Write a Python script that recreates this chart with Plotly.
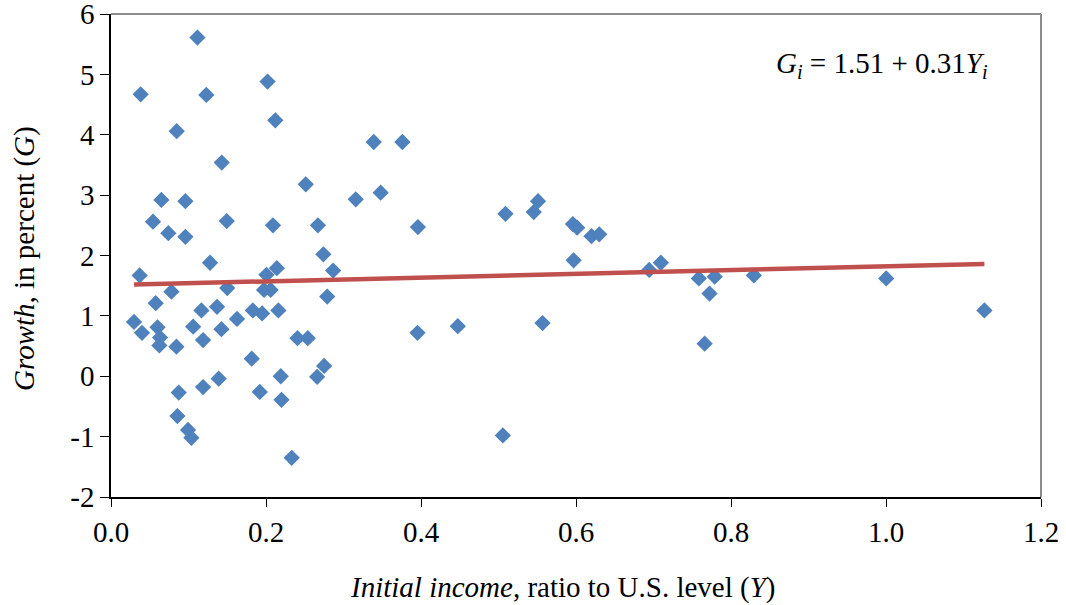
import plotly.graph_objects as go

# Data
income = [0.1115, 0.0383, 0.123, 0.202, 0.212, 0.0848, 0.1429, 0.2513, 0.065, 0.096,
          0.0542, 0.1493, 0.209, 0.267, 0.074, 0.096, 0.274, 0.037, 0.1278, 0.2866,
          0.214, 0.2006, 0.078, 0.150, 0.1975, 0.206, 0.279, 0.0577, 0.1167, 0.1368,
          0.183, 0.195, 0.216, 0.0297, 0.040, 0.060, 0.0633, 0.0624, 0.0844, 0.106,
          0.1188, 0.1425, 0.1626, 0.2406, 0.2539, 0.1816, 0.219, 0.275, 0.266, 0.139,
          0.1188, 0.0874, 0.192, 0.220, 0.0857, 0.0994, 0.1037, 0.2332, 0.339, 0.376,
          0.3158, 0.348, 0.396, 0.509, 0.551, 0.5455, 0.596, 0.6015, 0.620, 0.630,
          0.597, 0.3955, 0.4475, 0.5568, 0.6944, 0.7095, 0.7585, 0.779, 0.7723, 0.766,
          0.8295, 1.0003, 1.127, 0.5056]
growth = [5.61, 4.67, 4.66, 4.88, 4.24, 4.06, 3.54, 3.18, 2.92, 2.90,
          2.56, 2.57, 2.50, 2.50, 2.37, 2.31, 2.02, 1.67, 1.88, 1.75,
          1.79, 1.68, 1.40, 1.46, 1.43, 1.43, 1.32, 1.21, 1.09, 1.15,
          1.09, 1.04, 1.09, 0.90, 0.72, 0.81, 0.64, 0.51, 0.49, 0.82,
          0.60, 0.78, 0.95, 0.63, 0.63, 0.29, 0.00, 0.17, -0.01, -0.04,
          -0.18, -0.27, -0.26, -0.39, -0.66, -0.89, -1.02, -1.35, 3.88, 3.88,
          2.93, 3.04, 2.47, 2.69, 2.90, 2.72, 2.52, 2.46, 2.32, 2.35,
          1.92, 0.72, 0.83, 0.88, 1.76, 1.88, 1.62, 1.65, 1.37, 0.54,
          1.67, 1.62, 1.09, -0.98]

intercept = 1.51
slope = 0.31

x_ticks = [0.0, 0.2, 0.4, 0.6, 0.8, 1.0, 1.2]
x_tick_labels = ["0.0", "0.2", "0.4", "0.6", "0.8", "1.0", "1.2"]
y_ticks = [-2, -1, 0, 1, 2, 3, 4, 5, 6]
y_tick_labels = ["-2", "-1", "0", "1", "2", "3", "4", "5", "6"]

FONT = "Liberation Serif, Times New Roman, serif"
FS = 29

x_line = [min(income), max(income)]
y_line = [intercept + slope * v for v in x_line]

fig = go.Figure()
fig.add_trace(go.Scatter(
    x=income, y=growth, mode="markers",
    marker=dict(symbol="diamond", size=12.5, color="#4F81BD",
                line=dict(width=0)),
    showlegend=False, hoverinfo="x+y"))
fig.add_trace(go.Scatter(
    x=x_line, y=y_line, mode="lines",
    line=dict(color="#C0504D", width=4.5),
    showlegend=False, hoverinfo="skip"))

fig.update_layout(
    width=1066, height=605,
    margin=dict(l=111, r=25, t=14, b=108, autoexpand=False),
    paper_bgcolor="white", plot_bgcolor="white",
    font=dict(family=FONT, size=FS, color="black"),
    xaxis=dict(range=[0, 1.2], tickvals=x_ticks, ticktext=x_tick_labels,
               showgrid=False, zeroline=False, showline=True, automargin=False,
               linecolor="black", linewidth=1.5, ticks="outside",
               ticklen=8, tickcolor="black", tickwidth=1,
               ticklabeloverflow="allow",
               tickfont=dict(family=FONT, size=FS)),
    yaxis=dict(range=[-2, 6], tickvals=y_ticks, ticktext=y_tick_labels,
               showgrid=False, zeroline=False, showline=True, automargin=False,
               linecolor="black", linewidth=1.5, ticks="outside",
               ticklen=9, tickcolor="black", tickwidth=1,
               ticksuffix="\u00a0", ticklabeloverflow="allow",
               tickfont=dict(family=FONT, size=FS)),
    shapes=[
        dict(type="line", xref="x domain", yref="y domain", x0=0, x1=1, y0=1, y1=1,
             line=dict(color="#8c8c8c", width=2)),
        dict(type="line", xref="x domain", yref="y domain", x0=1, x1=1, y0=0, y1=1,
             line=dict(color="#8c8c8c", width=2)),
    ],
    annotations=[
        dict(xref="x domain", yref="y domain", x=0.945, y=0.895,
             xanchor="right", yanchor="middle", showarrow=False,
             text="<i>G</i><sub><i>i</i></sub> = 1.51 + 0.31<i>Y</i><sub><i>i</i></sub>",
             font=dict(family=FONT, size=FS, color="black")),
        dict(xref="paper", yref="paper", x=(563 - 111) / 930, y=(497 - 587) / 483,
             xanchor="center", yanchor="middle", showarrow=False,
             text="<i>Initial income</i>, ratio to U.S. level (<i>Y</i>)",
             font=dict(family=FONT, size=FS, color="black")),
        dict(xref="paper", yref="paper", x=(24 - 111) / 930, y=(497 - 259) / 483,
             xanchor="center", yanchor="middle", showarrow=False, textangle=-90,
             text="<i>Growth</i>, in percent (<i>G</i>)",
             font=dict(family=FONT, size=FS, color="black")),
    ],
)

fig.write_html("out.html", config={"displayModeBar": False})

# remove the browser's default body margin so the figure sits at the window origin
with open("out.html", "r", encoding="utf-8") as f:
    html = f.read()
html = html.replace("<body>", '<body style="margin:0;padding:0;">', 1)
with open("out.html", "w", encoding="utf-8") as f:
    f.write(html)
